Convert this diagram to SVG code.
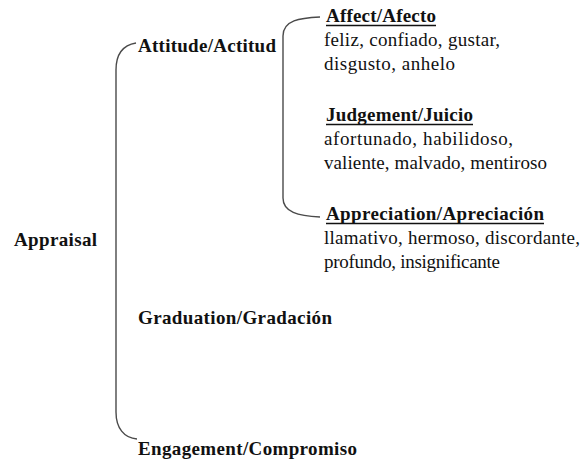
<svg xmlns="http://www.w3.org/2000/svg" width="586" height="461" viewBox="0 0 586 461">
  <style>
    text { font-family: Liberation Serif, Times New Roman, serif; font-size: 19px; fill: #111; }
    .head { font-weight: bold; }
    .uline { stroke: #111; stroke-width: 1.6; }
    .brace { fill: none; stroke: #4a4a4a; stroke-width: 1.4; }
  </style>
  <rect width="586" height="461" fill="#ffffff"/>

  <!-- bracket connectors -->
  <g id="connectors">
    <path class="brace" d="M136,43 C124,45 116,52 116,70 L116,412 C116,428 124,438 137,439"/>
    <path class="brace" d="M320,17 C300,18 283,20 283,36 L283,198 C283,212 298,216 320,217"/>
  </g>

  <g id="appraisal">
    <text class="head" x="14" y="246" textLength="83" lengthAdjust="spacing">Appraisal</text>
  </g>

  <g id="attitude">
    <text class="head" x="138" y="52" textLength="138" lengthAdjust="spacing">Attitude/Actitud</text>
  </g>

  <g id="graduation">
    <text class="head" x="138" y="324" textLength="194" lengthAdjust="spacing">Graduation/Gradación</text>
  </g>

  <g id="engagement">
    <text class="head" x="138" y="455" textLength="219" lengthAdjust="spacing">Engagement/Compromiso</text>
  </g>

  <g id="affect">
    <text class="head" x="326" y="22" textLength="110" lengthAdjust="spacing">Affect/Afecto</text>
    <line class="uline" x1="326" y1="25.5" x2="436" y2="25.5"/>
    <text x="324" y="46" textLength="176" lengthAdjust="spacing">feliz, confiado, gustar,</text>
    <text x="324" y="70" textLength="131" lengthAdjust="spacing">disgusto, anhelo</text>
  </g>

  <g id="judgement">
    <text class="head" x="326" y="121" textLength="147" lengthAdjust="spacing">Judgement/Juicio</text>
    <line class="uline" x1="326" y1="124.5" x2="473" y2="124.5"/>
    <text x="324" y="145" textLength="189" lengthAdjust="spacing">afortunado, habilidoso,</text>
    <text x="324" y="169" textLength="223" lengthAdjust="spacing">valiente, malvado, mentiroso</text>
  </g>

  <g id="appreciation">
    <text class="head" x="326" y="220" textLength="218" lengthAdjust="spacing">Appreciation/Apreciación</text>
    <line class="uline" x1="326" y1="223.5" x2="544" y2="223.5"/>
    <text x="324" y="244" textLength="256" lengthAdjust="spacing">llamativo, hermoso, discordante,</text>
    <text x="324" y="268" textLength="176" lengthAdjust="spacing">profundo, insignificante</text>
  </g>
</svg>
